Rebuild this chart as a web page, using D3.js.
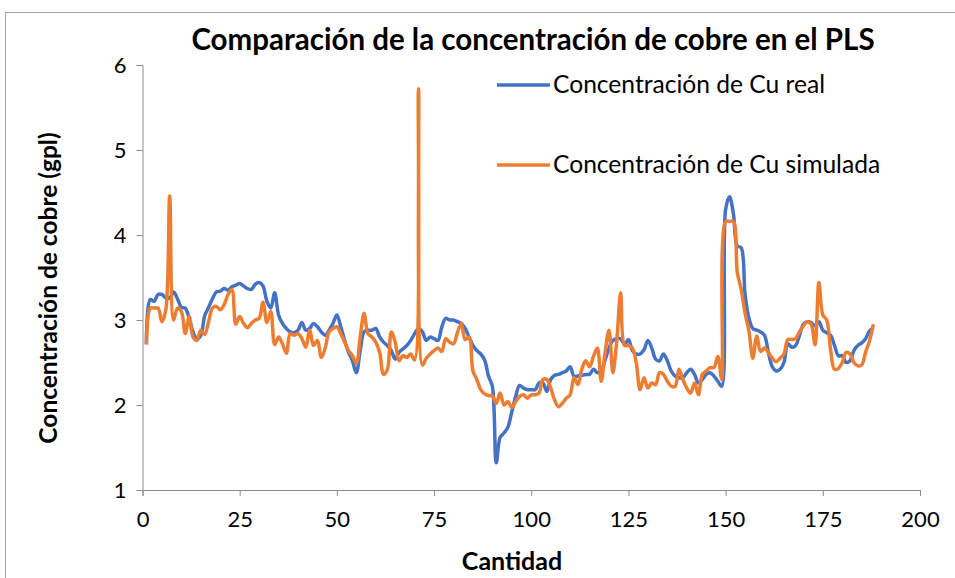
<!DOCTYPE html>
<html>
<head>
<meta charset="utf-8">
<script src="https://cdn.jsdelivr.net/npm/d3@7"></script>
<style>
  body { margin: 0; background: #fff; }
  svg { display: block; font-family: Lato, "Open Sans", sans-serif; }
</style>
</head>
<body>
<svg id="chart" width="955" height="578"></svg>
<script>
// Cu concentration (gpl), samples 1..188
const realCu = [
  2.72, 3.24, 3.22, 3.30, 3.30, 3.26, 3.26, 3.33, 3.25, 3.15,
  3.14, 3.02, 2.86, 2.78, 2.82, 3.05, 3.15, 3.25, 3.33, 3.34,
  3.37, 3.35, 3.39, 3.41, 3.43, 3.40, 3.37, 3.36, 3.42, 3.44,
  3.40, 3.22, 3.14, 3.32, 3.06, 2.96, 2.90, 2.86, 2.85, 2.88,
  2.97, 2.88, 2.90, 2.96, 2.92, 2.86, 2.82, 2.88, 2.96, 3.06,
  2.92, 2.76, 2.62, 2.52, 2.38, 2.64, 2.86, 2.88, 2.88, 2.90,
  2.80, 2.74, 2.70, 2.64, 2.54, 2.62, 2.66, 2.70, 2.76, 2.84,
  2.90, 2.86, 2.76, 2.80, 2.78, 2.76, 2.92, 3.02, 3.00, 3.00,
  2.98, 2.96, 2.90, 2.80, 2.70, 2.64, 2.60, 2.53, 2.34, 2.22,
  1.32, 1.62, 1.67, 1.74, 1.92, 2.10, 2.23, 2.20, 2.18, 2.18,
  2.18, 2.26, 2.26, 2.16, 2.30, 2.35, 2.36, 2.38, 2.40, 2.45,
  2.34, 2.34, 2.35, 2.36, 2.36, 2.42, 2.38, 2.40, 2.53, 2.67,
  2.76, 2.78, 2.78, 2.71, 2.77, 2.64, 2.60, 2.60, 2.65, 2.76,
  2.67, 2.54, 2.52, 2.60, 2.52, 2.40, 2.34, 2.32, 2.32, 2.38,
  2.42, 2.36, 2.26, 2.30, 2.36, 2.38, 2.34, 2.28, 2.22, 4.30,
  4.45, 4.25, 3.87, 3.85, 3.30, 3.02, 2.90, 2.88, 2.86, 2.82,
  2.62, 2.45, 2.40, 2.42, 2.50, 2.72, 2.68, 2.70, 2.82, 2.95,
  2.98, 2.97, 2.93, 2.98, 2.88, 2.85, 2.82, 2.70, 2.58, 2.58,
  2.50, 2.52, 2.64, 2.70, 2.73, 2.78, 2.87, 2.91
];
const simCu = [
  2.71, 3.14, 3.14, 3.14, 2.98, 3.12, 4.46, 3.00, 3.14, 3.10,
  2.84, 3.04, 2.80, 2.76, 2.88, 2.83, 2.98, 3.14, 3.16, 3.12,
  3.18, 3.30, 3.36, 2.95, 3.04, 2.96, 2.91, 2.96, 3.00, 3.02,
  3.21, 2.97, 3.10, 2.71, 2.80, 2.72, 2.61, 2.84, 2.82, 2.84,
  2.78, 2.68, 2.88, 2.70, 2.76, 2.56, 2.67, 2.86, 2.90, 2.92,
  2.84, 2.74, 2.64, 2.58, 2.49, 2.80, 3.08, 2.84, 2.80, 2.74,
  2.62, 2.36, 2.42, 2.86, 2.74, 2.52, 2.58, 2.56, 2.60, 2.53,
  5.72, 2.47, 2.55, 2.60, 2.64, 2.67, 2.63, 2.78, 2.74, 2.72,
  2.85, 2.96, 2.77, 2.80, 2.40, 2.30, 2.18, 2.13, 2.11, 2.11,
  2.02, 2.14, 2.00, 2.04, 1.97, 2.04, 2.10, 2.12, 2.08, 2.12,
  2.12, 2.14, 2.30, 2.30, 2.20, 2.06, 1.98, 2.02, 2.08, 2.12,
  2.32, 2.24, 2.42, 2.52, 2.45, 2.57, 2.67, 2.28, 2.62, 2.88,
  2.38, 2.76, 3.32, 2.70, 2.70, 2.67, 2.50, 2.18, 2.32, 2.20,
  2.26, 2.24, 2.38, 2.36, 2.28, 2.22, 2.22, 2.42, 2.30, 2.20,
  2.14, 2.26, 2.12, 2.36, 2.40, 2.44, 2.44, 2.57, 2.30, 4.16,
  4.16, 4.16, 3.56, 3.36, 3.08, 2.87, 2.55, 2.81, 2.63, 2.67,
  2.62, 2.55, 2.51, 2.55, 2.60, 2.77, 2.77, 2.78, 2.86, 2.93,
  2.98, 2.95, 2.71, 3.44, 3.06, 3.00, 2.65, 2.42, 2.43, 2.50,
  2.62, 2.60, 2.50, 2.46, 2.47, 2.62, 2.75, 2.95
];
const seriesNames = ['Concentración de Cu real', 'Concentración de Cu simulada'];
const seriesColors = ['#4472C4', '#ED7D31'];
const xTicks = [0, 25, 50, 75, 100, 125, 150, 175, 200];
const yTicks = [1, 2, 3, 4, 5, 6];

const svg = d3.select('#chart');
const margin = { top: 65, right: 35, bottom: 88, left: 142.5 };
const width = 955 - margin.left - margin.right;
const height = 578 - margin.top - margin.bottom;

// outer chart frame
svg.append('rect')
  .attr('x', 5.5).attr('y', 12.5)
  .attr('width', 1000).attr('height', 700)
  .attr('fill', 'none').attr('stroke', '#a6a6a6').attr('stroke-width', 1);

const g = svg.append('g').attr('transform', `translate(${margin.left},${margin.top})`);

const x = d3.scaleLinear().domain([0, 200]).range([0, width]);
const y = d3.scaleLinear().domain([1, 6]).range([height, 0]);

// Add X axis
const xAxis = g.append('g')
  .attr('transform', `translate(0,${height})`)
  .call(d3.axisBottom(x).tickValues(xTicks).tickSize(6).tickPadding(15));

// Add Y axis
const yAxis = g.append('g')
  .call(d3.axisLeft(y).tickValues(yTicks).tickFormat(d3.format('d')).tickSize(6).tickPadding(10));

[xAxis, yAxis].forEach((ax) => {
  ax.select('.domain').attr('stroke', '#8c8c8c');
  ax.selectAll('.tick line').attr('stroke', '#8c8c8c');
  ax.selectAll('.tick text')
    .attr('fill', '#000')
    .style('font-size', '22px')
    .style('font-family', 'Lato, "Open Sans", sans-serif');
});

// lines
const line = d3.line()
  .x((d, i) => x(i + 1))
  .y((d) => y(d))
  .curve(d3.curveCatmullRom.alpha(0.5));

[realCu, simCu].forEach((data, k) => {
  g.append('path')
    .datum(data)
    .attr('fill', 'none')
    .attr('stroke', seriesColors[k])
    .attr('stroke-width', 3.5)
    .attr('stroke-linejoin', 'round')
    .attr('d', line);
});

// title
svg.append('text')
  .attr('x', 533).attr('y', 50)
  .attr('text-anchor', 'middle')
  .style('font-size', '29.5px').style('font-weight', 'bold')
  .text('Comparación de la concentración de cobre en el PLS');

// axis titles
svg.append('text')
  .attr('x', 512).attr('y', 570)
  .attr('text-anchor', 'middle')
  .style('font-size', '25px').style('font-weight', 'bold')
  .text('Cantidad');

svg.append('text')
  .attr('transform', `translate(57,288) rotate(-90)`)
  .attr('text-anchor', 'middle')
  .style('font-size', '24.5px').style('font-weight', 'bold')
  .text('Concentración de cobre (gpl)');

// legend
const legend = svg.append('g').attr('transform', 'translate(497,85)');
seriesNames.forEach((name, k) => {
  const row = legend.append('g').attr('transform', `translate(0,${k * 80})`);
  row.append('line')
    .attr('x1', 0).attr('x2', 53).attr('y1', 0).attr('y2', 0)
    .attr('stroke', seriesColors[k]).attr('stroke-width', 3.5);
  row.append('text')
    .attr('x', 56).attr('y', 8)
    .style('font-size', '24.6px')
    .text(name);
});
</script>
</body>
</html>
